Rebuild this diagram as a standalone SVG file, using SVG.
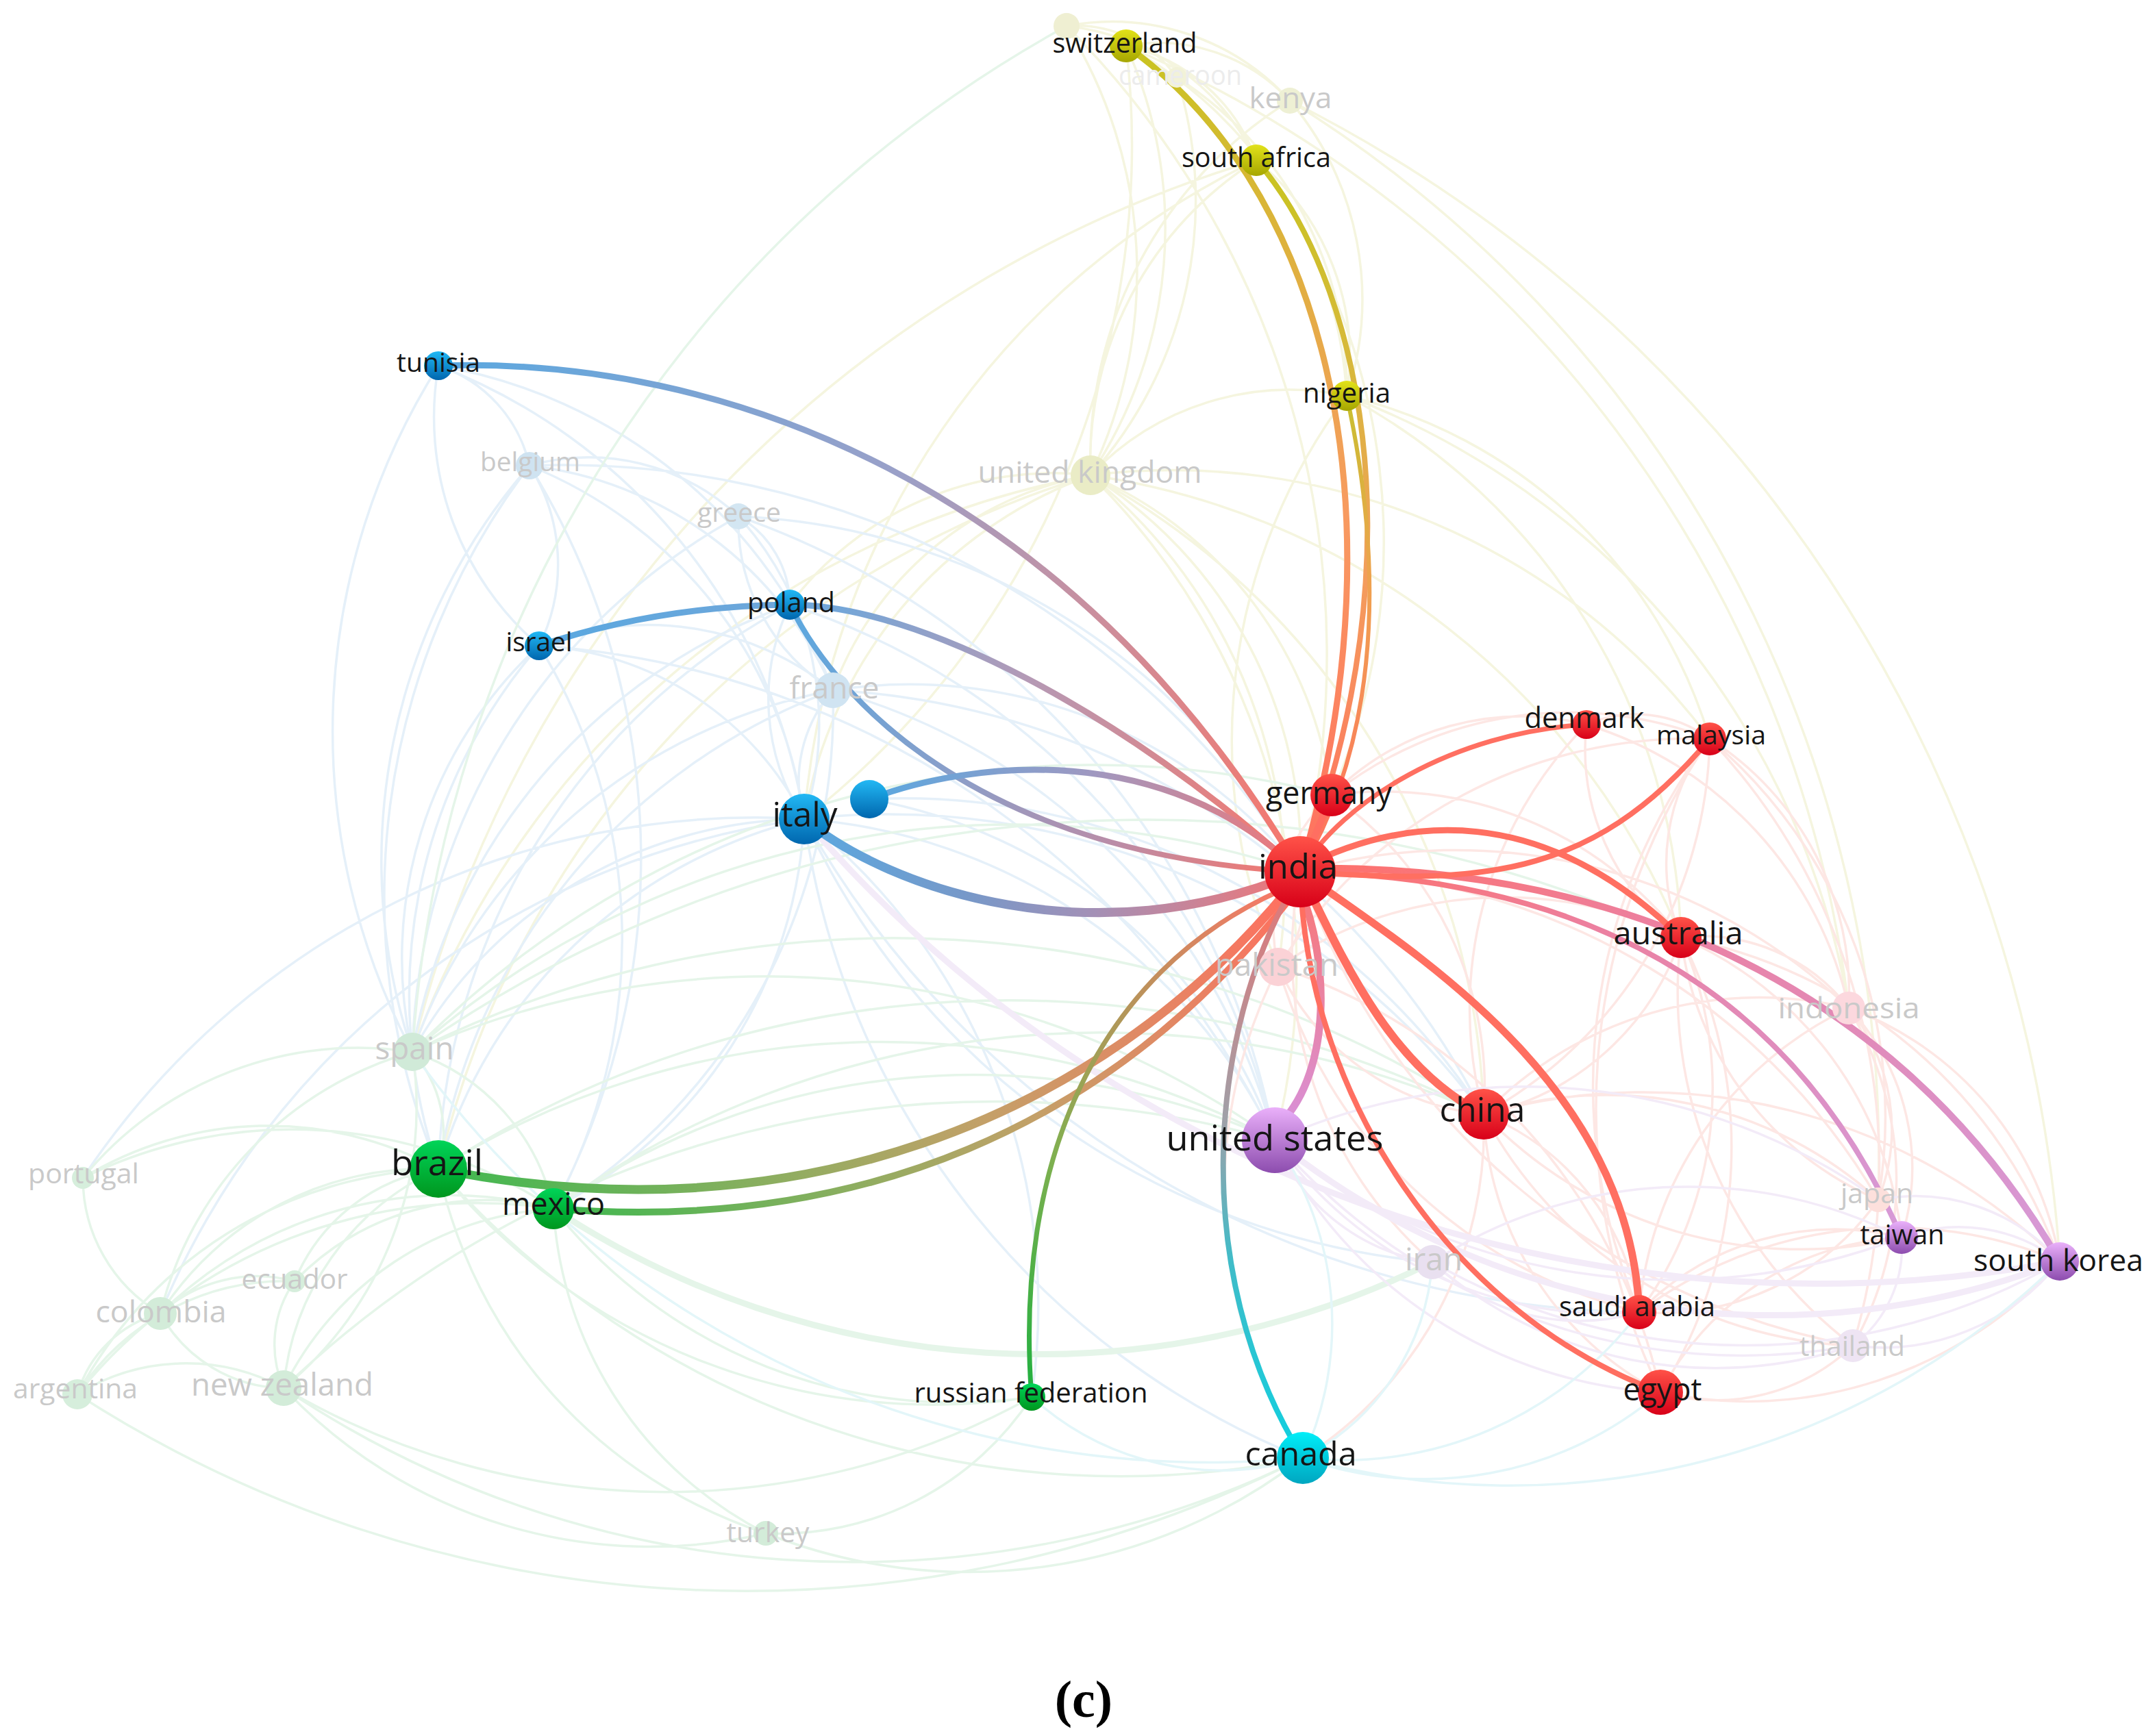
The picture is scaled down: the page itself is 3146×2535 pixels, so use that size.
<svg xmlns="http://www.w3.org/2000/svg" width="3146" height="2535" viewBox="0 0 3146 2535">
<defs>
<style>
.fy{fill:none;stroke:#f5f5df;stroke-width:3.5}
.fb{fill:none;stroke:#e5f0f9;stroke-width:3.5}
.fg{fill:none;stroke:#e5f5e9;stroke-width:3.5}
.fr{fill:none;stroke:#fde7e4;stroke-width:3.5}
.fp{fill:none;stroke:#f3ebf8;stroke-width:3.5}
.fc{fill:none;stroke:#e3f6f9;stroke-width:3.5}
.wide{stroke-width:9}
.s{fill:none;stroke-linecap:round}
.red{stroke:#ff6f61}
text{font-family:"Open Sans","Liberation Sans",sans-serif;text-anchor:middle}
.lb{fill:#151515}
.lf{fill:#c9c9c9}
.cap{font-family:"Liberation Serif","Times New Roman",serif;font-weight:bold;font-size:76px;fill:#000}
</style>
<linearGradient id="nY" x1="0" y1="0" x2="0" y2="1"><stop offset="0" stop-color="#e2e21a"/><stop offset="1" stop-color="#a6a600"/></linearGradient>
<linearGradient id="nB" x1="0" y1="0" x2="0" y2="1"><stop offset="0" stop-color="#22b8f4"/><stop offset="1" stop-color="#0066ae"/></linearGradient>
<linearGradient id="nR" x1="0" y1="0" x2="0" y2="1"><stop offset="0" stop-color="#ff5248"/><stop offset="1" stop-color="#d80018"/></linearGradient>
<linearGradient id="nG" x1="0" y1="0" x2="0" y2="1"><stop offset="0" stop-color="#00d458"/><stop offset="1" stop-color="#00961e"/></linearGradient>
<linearGradient id="nP" x1="0" y1="0" x2="0" y2="1"><stop offset="0" stop-color="#eab0fa"/><stop offset="1" stop-color="#8c4cae"/></linearGradient>
<linearGradient id="nC" x1="0" y1="0" x2="0" y2="1"><stop offset="0" stop-color="#00eef8"/><stop offset="1" stop-color="#00a6c0"/></linearGradient>
<linearGradient id="gTU" gradientUnits="userSpaceOnUse" x1="640" y1="534" x2="1898" y2="1273"><stop offset="0" stop-color="#5aa8e0"/><stop offset="0.45" stop-color="#9aa0c8"/><stop offset="0.7" stop-color="#cc8e9c"/><stop offset="1" stop-color="#f8766a"/></linearGradient>
<linearGradient id="gIS" gradientUnits="userSpaceOnUse" x1="787" y1="943" x2="1898" y2="1273"><stop offset="0" stop-color="#5aa8e0"/><stop offset="0.35" stop-color="#74a6d8"/><stop offset="0.6" stop-color="#b49ab6"/><stop offset="1" stop-color="#f8766a"/></linearGradient>
<linearGradient id="gPL" gradientUnits="userSpaceOnUse" x1="1153" y1="883" x2="1898" y2="1273"><stop offset="0" stop-color="#5aa8e0"/><stop offset="0.4" stop-color="#8c9ec8"/><stop offset="0.7" stop-color="#bc8ca6"/><stop offset="1" stop-color="#f8766a"/></linearGradient>
<linearGradient id="gBL" gradientUnits="userSpaceOnUse" x1="1269" y1="1167" x2="1898" y2="1273"><stop offset="0" stop-color="#5aa8e0"/><stop offset="0.5" stop-color="#a098c0"/><stop offset="1" stop-color="#f27676"/></linearGradient>
<linearGradient id="gIT" gradientUnits="userSpaceOnUse" x1="1174" y1="1196" x2="1898" y2="1273"><stop offset="0" stop-color="#5aa8e0"/><stop offset="0.35" stop-color="#7898c8"/><stop offset="0.6" stop-color="#a490b6"/><stop offset="1" stop-color="#f27676"/></linearGradient>
<linearGradient id="gSW" gradientUnits="userSpaceOnUse" x1="1644" y1="67" x2="1898" y2="1273"><stop offset="0" stop-color="#c8c420"/><stop offset="0.3" stop-color="#e0b040"/><stop offset="0.6" stop-color="#f89a60"/><stop offset="1" stop-color="#ff7060"/></linearGradient>
<linearGradient id="gSA" gradientUnits="userSpaceOnUse" x1="1834" y1="234" x2="1898" y2="1273"><stop offset="0" stop-color="#c8c420"/><stop offset="0.3" stop-color="#d8b83c"/><stop offset="0.6" stop-color="#f49c5c"/><stop offset="1" stop-color="#ff7060"/></linearGradient>
<linearGradient id="gNG" gradientUnits="userSpaceOnUse" x1="1966" y1="578" x2="1898" y2="1273"><stop offset="0" stop-color="#c8c030"/><stop offset="0.4" stop-color="#f0a050"/><stop offset="1" stop-color="#ff7060"/></linearGradient>
<linearGradient id="gBR" gradientUnits="userSpaceOnUse" x1="640" y1="1707" x2="1880" y2="1300"><stop offset="0" stop-color="#40b850"/><stop offset="0.35" stop-color="#8cae60"/><stop offset="0.6" stop-color="#c4a068"/><stop offset="1" stop-color="#ff7060"/></linearGradient>
<linearGradient id="gMX" gradientUnits="userSpaceOnUse" x1="808" y1="1765" x2="1885" y2="1310"><stop offset="0" stop-color="#40b850"/><stop offset="0.35" stop-color="#8cae60"/><stop offset="0.6" stop-color="#c4a068"/><stop offset="1" stop-color="#ff7060"/></linearGradient>
<linearGradient id="gRU" gradientUnits="userSpaceOnUse" x1="1506" y1="2040" x2="1870" y2="1300"><stop offset="0" stop-color="#20b040"/><stop offset="0.4" stop-color="#80b050"/><stop offset="0.75" stop-color="#c0905c"/><stop offset="1" stop-color="#f87868"/></linearGradient>
<linearGradient id="gCA" gradientUnits="userSpaceOnUse" x1="1902" y1="2129" x2="1885" y2="1300"><stop offset="0" stop-color="#10d0e0"/><stop offset="0.35" stop-color="#40bcc8"/><stop offset="0.6" stop-color="#a0a0a8"/><stop offset="1" stop-color="#e07878"/></linearGradient>
<linearGradient id="gUS" gradientUnits="userSpaceOnUse" x1="1870" y1="1640" x2="1898" y2="1300"><stop offset="0" stop-color="#d890d8"/><stop offset="1" stop-color="#f87878"/></linearGradient>
<linearGradient id="gKR" gradientUnits="userSpaceOnUse" x1="1898" y1="1268" x2="3007" y2="1842"><stop offset="0" stop-color="#ff7068"/><stop offset="0.4" stop-color="#ec80a0"/><stop offset="0.7" stop-color="#e08cbc"/><stop offset="1" stop-color="#d69ad8"/></linearGradient>
<linearGradient id="gTW" gradientUnits="userSpaceOnUse" x1="1898" y1="1273" x2="2776" y2="1807"><stop offset="0" stop-color="#ff7068"/><stop offset="0.4" stop-color="#ec80a0"/><stop offset="0.7" stop-color="#e08cbc"/><stop offset="1" stop-color="#d69ad8"/></linearGradient>
</defs>
<rect width="3146" height="2535" fill="#fff"/>
<g id="connectors">
<g id="faint-edges">
<path class="fy" d="M1644 67A650 650 0 0 1 1592 694M1644 67A1250 1250 0 0 1 1174 1196M1644 67A260 260 0 0 1 1834 234M1644 67A260 260 0 0 1 1883 147M1644 67A620 620 0 0 1 1966 578M1557 38A680 680 0 0 1 1592 694M1557 38A350 350 0 0 1 1834 234M1557 38A350 350 0 0 1 1883 147M1557 38A1300 1300 0 0 1 1898 1273M1557 38A180 180 0 0 1 1718 113M1718 113A600 600 0 0 1 1592 694M1718 113A540 540 0 0 1 1966 578M1883 147A450 450 0 0 1 1966 578M1883 147A2050 2050 0 0 1 3007 1842M1883 147A620 620 0 0 0 1592 694M1883 147A1820 1820 0 0 1 2742 1752M1834 234A520 520 0 0 0 1592 694M1834 234A370 370 0 0 1 1966 578M1834 234A1170 1170 0 0 0 1174 1196M1834 234A1800 1800 0 0 0 602 1536M1834 234A930 930 0 0 1 1944 1161M1592 694A650 650 0 0 1 1898 1273M1592 694A650 650 0 0 0 1174 1196M1592 694A1300 1300 0 0 0 602 1536M1592 694A1390 1390 0 0 0 640 1707M1592 694A770 770 0 0 1 1866 1412M1592 694A1100 1100 0 0 1 2166 1627M1592 694A1100 1100 0 0 1 2454 1369M1592 694A590 590 0 0 1 1944 1161M1592 694A400 400 0 0 1 1966 578M1592 694A1010 1010 0 0 1 1861 1665M1592 694A980 980 0 0 1 2496 1079M1592 694A490 490 0 0 0 1216 1008M1592 694A480 480 0 0 0 1153 883M1966 578A840 840 0 0 0 1866 1412M1966 578A1160 1160 0 0 1 2699 1472M1966 578A930 930 0 0 1 2454 1369M1966 578A730 730 0 0 1 2496 1079M1644 67A1760 1760 0 0 1 2699 1472"/>
<path class="fb" d="M640 534A200 200 0 0 1 773 680M640 534A440 440 0 0 0 787 943M640 534A850 850 0 0 1 1174 1196M640 534A750 750 0 0 1 1216 1008M640 534A1000 1000 0 0 0 602 1536M773 680A270 270 0 0 1 787 943M773 680A650 650 0 0 1 1174 1196M773 680A550 550 0 0 1 1216 1008M773 680A880 880 0 0 0 602 1536M773 680A1040 1040 0 0 0 640 1707M773 680A320 320 0 0 1 1078 754M773 680A1270 1270 0 0 1 1898 1273M773 680A1090 1090 0 0 1 808 1765M1078 754A150 150 0 0 1 1153 883M1078 754A450 450 0 0 1 1174 1196M1078 754A290 290 0 0 0 1216 1008M1078 754A970 970 0 0 1 1898 1273M1078 754A920 920 0 0 0 602 1536M1078 754A1200 1200 0 0 1 1861 1665M1153 883A320 320 0 0 0 1174 1196M1153 883A850 850 0 0 0 602 1536M1153 883A970 970 0 0 0 640 1707M1153 883A1060 1060 0 0 1 1861 1665M787 943A460 460 0 0 1 1174 1196M787 943A430 430 0 0 1 1216 1008M787 943A620 620 0 0 0 602 1536M787 943A780 780 0 0 0 640 1707M787 943A1290 1290 0 0 1 1861 1665M787 943A820 820 0 0 1 808 1765M1216 1008A200 200 0 0 0 1174 1196M1216 1008A810 810 0 0 0 602 1536M1216 1008A900 900 0 0 0 640 1707M1216 1008A860 860 0 0 1 808 1765M1216 1008A920 920 0 0 1 1861 1665M1216 1008A730 730 0 0 1 1898 1273M1216 1008A1130 1130 0 0 1 2166 1627M1174 1196A660 660 0 0 0 602 1536M1174 1196A740 740 0 0 0 640 1707M1174 1196A680 680 0 0 1 808 1765M1174 1196A830 830 0 0 1 1861 1665M1174 1196A1180 1180 0 0 0 1902 2129M1174 1196A1120 1120 0 0 0 2091 1843M1174 1196A1080 1080 0 0 1 2166 1627M1174 1196A1420 1420 0 0 0 2393 1916M1174 1196A910 910 0 0 1 1506 2040M1174 1196A1180 1180 0 0 0 121 1720M1174 1196A1190 1190 0 0 0 234 1918M1269 1167A770 770 0 0 1 1861 1665M1269 1167A1010 1010 0 0 1 2166 1627"/>
<path class="fg" d="M602 1536A1850 1850 0 0 1 1557 38M602 1536A180 180 0 0 1 640 1707M602 1536A310 310 0 0 1 808 1765M602 1536A520 520 0 0 0 121 1720M602 1536A530 530 0 0 0 234 1918M602 1536A1320 1320 0 0 1 1898 1273M602 1536A1270 1270 0 0 1 1861 1665M602 1536A1390 1390 0 0 1 1944 1161M602 1536A530 530 0 0 1 414 2027M602 1536A1860 1860 0 0 1 2454 1369M602 1536A1570 1570 0 0 1 2166 1627M640 1707A520 520 0 0 0 121 1720M640 1707A460 460 0 0 0 234 1918M640 1707A620 620 0 0 0 113 2036M640 1707A390 390 0 0 0 414 2027M640 1707A270 270 0 0 0 430 1871M640 1707A715 715 0 0 0 1118 2239M640 1707A1330 1330 0 0 0 1902 2129M640 1707A1220 1220 0 0 1 1861 1665M640 1707A1530 1530 0 0 1 2166 1627M640 1707A930 930 0 0 0 1506 2040M808 1765A600 600 0 0 0 234 1918M808 1765A470 470 0 0 0 414 2027M808 1765A390 390 0 0 0 430 1871M808 1765A750 750 0 0 0 113 2036M808 1765A1060 1060 0 0 1 1861 1665M808 1765A1370 1370 0 0 1 2166 1627M808 1765A750 750 0 0 0 1506 2040M121 1720A230 230 0 0 0 234 1918M121 1720A690 690 0 0 1 808 1765M234 1918A170 170 0 0 0 113 2036M234 1918A210 210 0 0 0 414 2027M234 1918A210 210 0 0 1 430 1871M113 2036A300 300 0 0 1 414 2027M113 2036A360 360 0 0 1 430 1871M414 2027A160 160 0 0 1 430 1871M414 2027A1100 1100 0 0 0 1506 2040M414 2027A1490 1490 0 0 0 1902 2129M414 2027A735 735 0 0 0 1118 2239M414 2027A1500 1500 0 0 1 1861 1665M113 2036A1800 1800 0 0 0 1902 2129M1118 2239A570 570 0 0 1 808 1765M1118 2239A440 440 0 0 0 1506 2040M1118 2239A800 800 0 0 0 1902 2129"/>
<path class="fg wide" stroke="#e8f2ea" d="M808 1765A1290 1290 0 0 0 2091 1843"/>
<path class="fr" d="M1898 1273A150 150 0 0 1 1866 1412M1898 1273A830 830 0 0 1 2699 1472M1898 1273A970 970 0 0 1 2742 1752M1898 1273A1060 1060 0 0 0 2705 1965M1898 1273A600 600 0 0 0 2091 1843M2166 1627A370 370 0 0 1 2393 1916M2166 1627A480 480 0 0 0 2424 2033M2166 1627A390 390 0 0 0 2454 1369M2166 1627A640 640 0 0 0 2496 1079M2166 1627A370 370 0 0 1 1866 1412M2166 1627A590 590 0 0 1 2742 1752M2166 1627A870 870 0 0 1 3007 1842M2166 1627A640 640 0 0 0 2776 1807M2166 1627A560 560 0 0 1 2699 1472M2166 1627A590 590 0 0 1 2316 1058M2166 1627A570 570 0 0 1 1902 2129M2166 1627A640 640 0 0 0 2705 1965M1866 1412A730 730 0 0 0 2393 1916M1866 1412A840 840 0 0 1 2424 2033M1866 1412A710 710 0 0 1 2496 1079M1866 1412A590 590 0 0 1 2454 1369M1866 1412A720 720 0 0 0 1902 2129M2424 2033A290 290 0 0 0 2705 1965M2424 2033A420 420 0 0 1 2776 1807M2424 2033A960 960 0 0 1 2496 1079M2424 2033A670 670 0 0 0 2454 1369M2424 2033A610 610 0 0 0 3007 1842M2393 1916A840 840 0 0 1 2496 1079M2393 1916A400 400 0 0 1 2776 1807M2393 1916A620 620 0 0 1 3007 1842M2393 1916A390 390 0 0 0 2742 1752M2393 1916A550 550 0 0 0 2454 1369M2393 1916A540 540 0 0 1 2699 1472M2454 1369A290 290 0 0 1 2496 1079M2454 1369A270 270 0 0 1 2699 1472M2454 1369A340 340 0 0 1 2316 1058M2454 1369A730 730 0 0 1 3007 1842M2454 1369A540 540 0 0 1 2776 1807M2454 1369A480 480 0 0 0 2742 1752M2454 1369A650 650 0 0 0 2705 1965M2316 1058A180 180 0 0 1 2496 1079M2316 1058A560 560 0 0 1 2699 1472M2316 1058A390 390 0 0 0 1944 1161M2496 1079A440 440 0 0 1 2699 1472M2496 1079A910 910 0 0 1 2705 1965M2496 1079A720 720 0 0 1 2742 1752M2496 1079A560 560 0 0 0 1944 1161M2699 1472A280 280 0 0 1 2742 1752M2699 1472A340 340 0 0 1 2776 1807M2699 1472A480 480 0 0 1 3007 1842M2699 1472A490 490 0 0 1 2705 1965M1944 1161A520 520 0 0 1 2166 1627M1944 1161A550 550 0 0 1 2454 1369M1944 1161A260 260 0 0 0 1866 1412"/>
<path class="fp" d="M1861 1665A930 930 0 0 0 2776 1807M1861 1665A290 290 0 0 0 2091 1843M1861 1665A900 900 0 0 0 2705 1965M1861 1665A890 890 0 0 1 2742 1752M1861 1665A590 590 0 0 0 2393 1916M1861 1665A670 670 0 0 0 2424 2033M2091 1843A920 920 0 0 0 3007 1842M2091 1843A690 690 0 0 1 2776 1807M2091 1843A310 310 0 0 0 2393 1916M2091 1843A630 630 0 0 0 2705 1965M2776 1807A180 180 0 0 1 2705 1965M3007 1842A330 330 0 0 1 2705 1965M2776 1807A240 240 0 0 1 3007 1842M3007 1842A280 280 0 0 0 2742 1752"/>
<path class="fp wide" d="M1861 1665A1160 1160 0 0 0 3007 1842M1174 1196A1950 1950 0 0 0 3007 1842"/>
<path class="fc" d="M1861 1665A470 470 0 0 1 1902 2129M1902 2129A530 530 0 0 0 2424 2033M1902 2129A350 350 0 0 0 2091 1843M1902 2129A410 410 0 0 1 1506 2040M1902 2129A540 540 0 0 0 2393 1916M1902 2129A1150 1150 0 0 0 3007 1842M1902 2129A1430 1430 0 0 1 602 1536"/>
</g>
<g id="strong-edges">
<path class="s" stroke="url(#gTU)" stroke-width="9" d="M640 534C1050 520 1560 700 1898 1273"/>
<path class="s" stroke="url(#gIS)" stroke-width="9" d="M787 943Q960 885 1153 883C1340 883 1640 1040 1898 1273"/>
<path class="s" stroke="url(#gPL)" stroke-width="8" d="M1153 883C1225 1030 1440 1250 1898 1273"/>
<path class="s" stroke="url(#gBL)" stroke-width="9" d="M1269 1167C1420 1110 1700 1080 1898 1273"/>
<path class="s" stroke="url(#gIT)" stroke-width="13" d="M1174 1196C1300 1300 1600 1400 1898 1273"/>
<path class="s" stroke="url(#gSW)" stroke-width="9" d="M1644 67C1920 260 2060 720 1898 1273"/>
<path class="s" stroke="url(#gSA)" stroke-width="8" d="M1834 234C1980 400 2080 800 1898 1273"/>
<path class="s" stroke="url(#gNG)" stroke-width="6" d="M1966 578C2010 780 2030 1050 1898 1273"/>
<path class="s" stroke="url(#gBR)" stroke-width="13" d="M640 1707C1150 1810 1600 1640 1880 1300"/>
<path class="s" stroke="url(#gMX)" stroke-width="10" d="M808 1765C1250 1800 1620 1650 1885 1310"/>
<path class="s" stroke="url(#gRU)" stroke-width="7" d="M1506 2040C1480 1700 1600 1420 1870 1300"/>
<path class="s" stroke="url(#gCA)" stroke-width="8" d="M1902 2129C1730 1850 1770 1500 1885 1300"/>
<path class="s" stroke="url(#gUS)" stroke-width="11" d="M1898 1300C1940 1400 1945 1560 1870 1640"/>
<path class="s" stroke="url(#gKR)" stroke-width="10" d="M1898 1268C2300 1260 2750 1400 3007 1842"/>
<path class="s" stroke="url(#gTW)" stroke-width="8" d="M1898 1273C2250 1280 2600 1400 2776 1807"/>
<path class="s red" stroke-width="7" d="M1898 1273C1960 1170 2120 1070 2316 1058"/>
<path class="s red" stroke-width="8" d="M1898 1273C2150 1290 2320 1290 2496 1079"/>
<path class="s red" stroke-width="9" d="M1898 1268C2050 1190 2250 1170 2454 1369"/>
<path class="s red" stroke-width="12" d="M1898 1273C1960 1400 2030 1560 2166 1627"/>
<path class="s red" stroke-width="11" d="M1898 1273C2080 1400 2380 1590 2393 1916"/>
<path class="s red" stroke-width="8" d="M1898 1273C1905 1600 2120 1920 2424 2033"/>
<path class="s red" stroke-width="10" d="M1898 1273L1944 1161"/>
</g>
</g>
<g id="n-x1"><circle cx="1557" cy="38" r="19" fill="#efefd2"/></g>
<g id="n-cameroon"><circle cx="1718" cy="113" r="15" fill="#f2f2d8"/><text x="1723" y="124" font-size="40" textLength="180" lengthAdjust="spacingAndGlyphs" fill="#ececec">cameroon</text></g>
<g id="n-kenya"><circle cx="1883" cy="147" r="19" fill="#eef0d4"/><text class="lf" x="1884" y="158" font-size="42" textLength="121" lengthAdjust="spacingAndGlyphs">kenya</text></g>
<g id="n-switzerland"><circle cx="1644" cy="67" r="24" fill="url(#nY)"/><text class="lb" x="1642" y="77" font-size="40" textLength="211" lengthAdjust="spacingAndGlyphs">switzerland</text></g>
<g id="n-southafrica"><circle cx="1834" cy="234" r="23" fill="url(#nY)"/><text class="lb" x="1834" y="244" font-size="40" textLength="218" lengthAdjust="spacingAndGlyphs">south africa</text></g>
<g id="n-nigeria"><circle cx="1966" cy="578" r="22" fill="url(#nY)"/><text class="lb" x="1966" y="588" font-size="40" textLength="128" lengthAdjust="spacingAndGlyphs">nigeria</text></g>
<g id="n-uk"><circle cx="1592" cy="694" r="29" fill="#eaecc6"/><text class="lf" x="1591" y="705" font-size="44" textLength="327" lengthAdjust="spacingAndGlyphs">united kingdom</text></g>
<g id="n-tunisia"><circle cx="640" cy="534" r="21" fill="url(#nB)"/><text class="lb" x="640" y="543" font-size="39" textLength="122" lengthAdjust="spacingAndGlyphs">tunisia</text></g>
<g id="n-belgium"><circle cx="773" cy="680" r="20" fill="#cfe3f1"/><text class="lf" x="774" y="688" font-size="39" textLength="146" lengthAdjust="spacingAndGlyphs">belgium</text></g>
<g id="n-greece"><circle cx="1078" cy="754" r="19" fill="#d3e6f2"/><text class="lf" x="1079" y="762" font-size="39" textLength="122" lengthAdjust="spacingAndGlyphs">greece</text></g>
<g id="n-poland"><circle cx="1153" cy="883" r="22" fill="url(#nB)"/><text class="lb" x="1155" y="894" font-size="40" textLength="128" lengthAdjust="spacingAndGlyphs">poland</text></g>
<g id="n-israel"><circle cx="787" cy="943" r="21" fill="url(#nB)"/><text class="lb" x="787" y="951" font-size="39" textLength="97" lengthAdjust="spacingAndGlyphs">israel</text></g>
<g id="n-france"><circle cx="1216" cy="1008" r="26" fill="#d0e4f2"/><text class="lf" x="1218" y="1020" font-size="44" textLength="131" lengthAdjust="spacingAndGlyphs">france</text></g>
<g id="n-blank"><circle cx="1269" cy="1167" r="28" fill="url(#nB)"/></g>
<g id="n-italy"><circle cx="1174" cy="1196" r="37" fill="url(#nB)"/><text class="lb" x="1175" y="1207" font-size="49" textLength="95" lengthAdjust="spacingAndGlyphs">italy</text></g>
<g id="n-germany"><circle cx="1944" cy="1161" r="31" fill="url(#nR)"/><text class="lb" x="1940" y="1174" font-size="45" textLength="184" lengthAdjust="spacingAndGlyphs">germany</text></g>
<g id="n-denmark"><circle cx="2316" cy="1058" r="21" fill="url(#nR)"/><text class="lb" x="2313" y="1063" font-size="42" textLength="175" lengthAdjust="spacingAndGlyphs">denmark</text></g>
<g id="n-malaysia"><circle cx="2496" cy="1079" r="24" fill="url(#nR)"/><text class="lb" x="2498" y="1087" font-size="39" textLength="160" lengthAdjust="spacingAndGlyphs">malaysia</text></g>
<g id="n-pakistan"><circle cx="1866" cy="1412" r="28" fill="#fbd2d6"/><text class="lf" x="1864" y="1425" font-size="45" textLength="180" lengthAdjust="spacingAndGlyphs">pakistan</text></g>
<g id="n-india"><circle cx="1898" cy="1273" r="52" fill="url(#nR)"/><text class="lb" x="1895" y="1283" font-size="49" textLength="116" lengthAdjust="spacingAndGlyphs">india</text></g>
<g id="n-australia"><circle cx="2454" cy="1369" r="30" fill="url(#nR)"/><text class="lb" x="2450" y="1379" font-size="46" textLength="189" lengthAdjust="spacingAndGlyphs">australia</text></g>
<g id="n-indonesia"><circle cx="2699" cy="1472" r="24" fill="#fcd8de"/><text class="lf" x="2699" y="1487" font-size="42" textLength="207" lengthAdjust="spacingAndGlyphs">indonesia</text></g>
<g id="n-spain"><circle cx="602" cy="1536" r="28" fill="#d0ead8"/><text class="lf" x="605" y="1547" font-size="45" textLength="115" lengthAdjust="spacingAndGlyphs">spain</text></g>
<g id="n-china"><circle cx="2166" cy="1627" r="37" fill="url(#nR)"/><text class="lb" x="2164" y="1638" font-size="50" textLength="125" lengthAdjust="spacingAndGlyphs">china</text></g>
<g id="n-unitedstates"><circle cx="1861" cy="1665" r="48" fill="url(#nP)"/><text class="lb" x="1861" y="1680" font-size="52" textLength="317" lengthAdjust="spacingAndGlyphs">united states</text></g>
<g id="n-portugal"><circle cx="121" cy="1720" r="16" fill="#d6eedc"/><text class="lf" x="122" y="1728" font-size="41" textLength="162" lengthAdjust="spacingAndGlyphs">portugal</text></g>
<g id="n-brazil"><circle cx="640" cy="1707" r="42" fill="url(#nG)"/><text class="lb" x="638" y="1716" font-size="52" textLength="134" lengthAdjust="spacingAndGlyphs">brazil</text></g>
<g id="n-mexico"><circle cx="808" cy="1765" r="30" fill="url(#nG)"/><text class="lb" x="808" y="1774" font-size="45" textLength="150" lengthAdjust="spacingAndGlyphs">mexico</text></g>
<g id="n-japan"><circle cx="2742" cy="1752" r="18" fill="#fde0dc"/><text class="lf" x="2740" y="1757" font-size="41" textLength="106" lengthAdjust="spacingAndGlyphs">japan</text></g>
<g id="n-taiwan"><circle cx="2776" cy="1807" r="24" fill="url(#nP)"/><text class="lb" x="2777" y="1817" font-size="40" textLength="123" lengthAdjust="spacingAndGlyphs">taiwan</text></g>
<g id="n-southkorea"><circle cx="3007" cy="1842" r="28" fill="url(#nP)"/><text class="lb" x="3005" y="1856" font-size="44" textLength="248" lengthAdjust="spacingAndGlyphs">south korea</text></g>
<g id="n-iran"><circle cx="2091" cy="1843" r="25" fill="#e9e0f0"/><text class="lf" x="2093" y="1855" font-size="46" textLength="84" lengthAdjust="spacingAndGlyphs">iran</text></g>
<g id="n-ecuador"><circle cx="430" cy="1871" r="16" fill="#d6eedc"/><text class="lf" x="430" y="1882" font-size="40" textLength="155" lengthAdjust="spacingAndGlyphs">ecuador</text></g>
<g id="n-colombia"><circle cx="234" cy="1918" r="24" fill="#d3ecd9"/><text class="lf" x="235" y="1931" font-size="44" textLength="191" lengthAdjust="spacingAndGlyphs">colombia</text></g>
<g id="n-saudiarabia"><circle cx="2393" cy="1916" r="25" fill="url(#nR)"/><text class="lb" x="2390" y="1922" font-size="40" textLength="228" lengthAdjust="spacingAndGlyphs">saudi arabia</text></g>
<g id="n-thailand"><circle cx="2705" cy="1965" r="24" fill="#eee4f3"/><text class="lf" x="2704" y="1980" font-size="40" textLength="154" lengthAdjust="spacingAndGlyphs">thailand</text></g>
<g id="n-argentina"><circle cx="113" cy="2036" r="22" fill="#d6eedc"/><text class="lf" x="110" y="2042" font-size="41" textLength="182" lengthAdjust="spacingAndGlyphs">argentina</text></g>
<g id="n-newzealand"><circle cx="414" cy="2027" r="26" fill="#d3ecd9"/><text class="lf" x="412" y="2038" font-size="46" textLength="266" lengthAdjust="spacingAndGlyphs">new zealand</text></g>
<g id="n-russia"><circle cx="1506" cy="2040" r="20" fill="url(#nG)"/><text class="lb" x="1505" y="2048" font-size="40" textLength="341" lengthAdjust="spacingAndGlyphs">russian federation</text></g>
<g id="n-egypt"><circle cx="2424" cy="2033" r="33" fill="url(#nR)"/><text class="lb" x="2427" y="2045" font-size="45" textLength="115" lengthAdjust="spacingAndGlyphs">egypt</text></g>
<g id="n-canada"><circle cx="1902" cy="2129" r="38" fill="url(#nC)"/><text class="lb" x="1899" y="2140" font-size="48" textLength="163" lengthAdjust="spacingAndGlyphs">canada</text></g>
<g id="n-turkey"><circle cx="1118" cy="2239" r="18" fill="#d3ecd9"/><text class="lf" x="1121" y="2252" font-size="41" textLength="121" lengthAdjust="spacingAndGlyphs">turkey</text></g>
<text class="cap" x="1582" y="2507">(c)</text>
</svg>
